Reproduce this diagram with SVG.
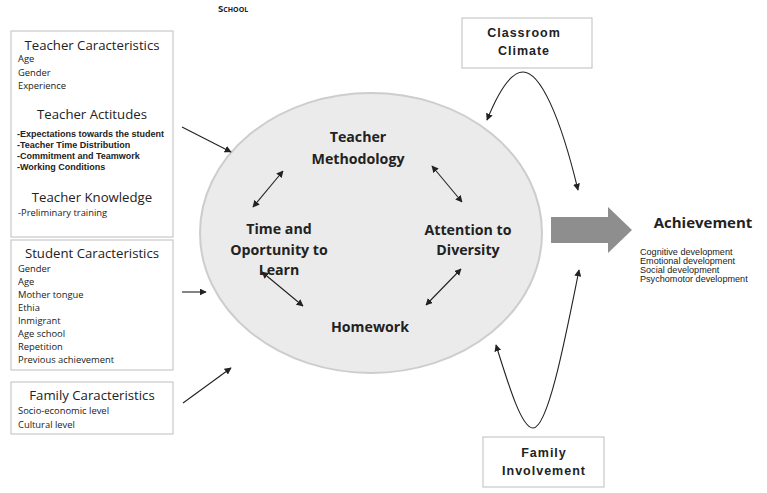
<svg xmlns="http://www.w3.org/2000/svg" width="767" height="493" viewBox="0 0 767 493">
<style>
.box{fill:#fff;stroke:#c8c8c8;stroke-width:1.2}
.h{font-family:"Open Sans","Noto Sans",sans-serif;font-size:13.2px;fill:#222;text-anchor:middle}
.i{font-family:"Open Sans","Noto Sans",sans-serif;font-size:9.4px;fill:#222}
.b{font-family:"Liberation Sans",Arial,sans-serif;font-size:9px;font-weight:bold;fill:#222}
.c{font-family:"Open Sans","Noto Sans",sans-serif;font-size:14.2px;font-weight:bold;fill:#222;text-anchor:middle}
.r{font-family:"Liberation Sans",Arial,sans-serif;font-size:12.5px;font-weight:bold;fill:#222;text-anchor:middle;letter-spacing:1px}
.a{font-family:"Liberation Sans",Arial,sans-serif;font-size:9.1px;fill:#222}
.ln{fill:none;stroke:#222;stroke-width:1.1}
</style>
<defs>
<marker id="ah" viewBox="0 0 10 10" refX="9" refY="5" markerWidth="7" markerHeight="7" orient="auto-start-reverse" markerUnits="userSpaceOnUse">
<path d="M0,0 L10,5 L0,10 Z" fill="#222"/>
</marker>
</defs>
<text x="218" y="12" style="font-family:'Open Sans','Noto Sans',sans-serif;font-size:9.6px;font-weight:bold;fill:#222;font-variant:small-caps">School</text>

<g id="school">
<ellipse cx="371" cy="233" rx="171" ry="140" fill="#ebebeb" stroke="#cdcdcd" stroke-width="2"/>
</g>
<g id="teacher-methodology"><text class="c" x="358" y="142">Teacher</text><text class="c" x="358" y="164">Methodology</text></g>
<g id="time-opportunity"><text class="c" x="279" y="234">Time and</text><text class="c" x="279" y="255">Oportunity to</text><text class="c" x="279" y="275">Learn</text></g>
<g id="attention-diversity"><text class="c" x="468" y="235">Attention to</text><text class="c" x="468" y="255">Diversity</text></g>
<g id="homework"><text class="c" x="370" y="332">Homework</text></g>

<g id="teacher-box">
<rect class="box" x="11" y="31" width="162" height="206"/>
<text class="h" x="92" y="50">Teacher Caracteristics</text>
<text class="i" x="18" y="62">Age</text>
<text class="i" x="18" y="75.5">Gender</text>
<text class="i" x="18" y="89">Experience</text>
<text class="h" x="92" y="119">Teacher Actitudes</text>
<text class="b" x="17" y="137">-Expectations towards the student</text>
<text class="b" x="17" y="148">-Teacher Time Distribution</text>
<text class="b" x="17" y="159">-Commitment and Teamwork</text>
<text class="b" x="17" y="169.5">-Working Conditions</text>
<text class="h" x="92" y="202">Teacher Knowledge</text>
<text class="i" x="18" y="216">-Preliminary training</text>
</g>

<g id="student-box">
<rect class="box" x="11" y="240" width="162" height="130"/>
<text class="h" x="92" y="258">Student Caracteristics</text>
<text class="i" x="18" y="272">Gender</text>
<text class="i" x="18" y="285">Age</text>
<text class="i" x="18" y="298">Mother tongue</text>
<text class="i" x="18" y="311">Ethia</text>
<text class="i" x="18" y="324">Inmigrant</text>
<text class="i" x="18" y="337">Age school</text>
<text class="i" x="18" y="350">Repetition</text>
<text class="i" x="18" y="363">Previous achievement</text>
</g>

<g id="family-box">
<rect class="box" x="11" y="382" width="162" height="52"/>
<text class="h" x="92" y="400">Family Caracteristics</text>
<text class="i" x="18" y="414">Socio-economic level</text>
<text class="i" x="18" y="427.5">Cultural level</text>
</g>

<g id="classroom-climate">
<rect class="box" x="462" y="18" width="130" height="50"/>
<text class="r" x="524" y="37">Classroom</text>
<text class="r" x="524" y="55">Climate</text>
</g>

<g id="family-involvement">
<rect class="box" x="483" y="437" width="121" height="50"/>
<text class="r" x="544" y="457">Family</text>
<text class="r" x="544" y="475">Involvement</text>
</g>

<g id="achievement">
<path d="M551,217 L608,217 L608,207 L632,230 L608,253 L608,243 L551,243 Z" fill="#8e8e8e"/>
<text x="703" y="228" style="font-family:'Open Sans','Noto Sans',sans-serif;font-size:15px;font-weight:bold;fill:#222;text-anchor:middle">Achievement</text>
<text class="a" x="640" y="255">Cognitive development</text>
<text class="a" x="640" y="264">Emotional development</text>
<text class="a" x="640" y="273">Social development</text>
<text class="a" x="640" y="282">Psychomotor development</text>
</g>

<g id="connectors">
<line class="ln" x1="182" y1="127" x2="231" y2="152" marker-end="url(#ah)"/>
<line class="ln" x1="182" y1="292" x2="206" y2="292" marker-end="url(#ah)"/>
<line class="ln" x1="183" y1="403" x2="231" y2="368" marker-end="url(#ah)"/>
<line class="ln" x1="283" y1="171" x2="253" y2="207" marker-start="url(#ah)" marker-end="url(#ah)"/>
<line class="ln" x1="432" y1="166" x2="462" y2="202" marker-start="url(#ah)" marker-end="url(#ah)"/>
<line class="ln" x1="262" y1="272" x2="303" y2="306" marker-start="url(#ah)" marker-end="url(#ah)"/>
<line class="ln" x1="461" y1="269" x2="426" y2="305" marker-start="url(#ah)" marker-end="url(#ah)"/>
<path class="ln" d="M487,120 C500,88 512,72 523,72 C540,72 560,115 578,190" marker-start="url(#ah)" marker-end="url(#ah)"/>
<path class="ln" d="M496,345 C510,390 522,428 533,428 C548,428 565,340 579,270" marker-start="url(#ah)" marker-end="url(#ah)"/>
</g>
</svg>
